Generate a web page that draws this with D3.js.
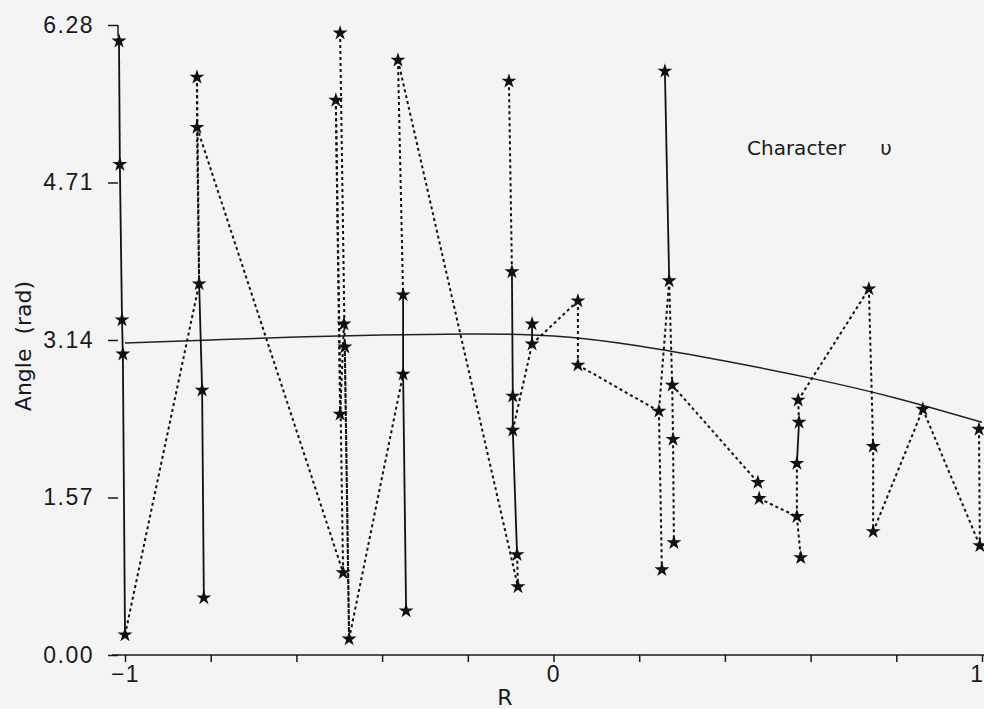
<!DOCTYPE html>
<meta charset="utf-8">
<style>
body { margin: 0; background: #f4f4f4; }
svg { display: block; font-family: "DejaVu Sans", sans-serif; }
.axis text { font-size: 23px; fill: #1a1a1a; letter-spacing: 1.5px; }
.axis line { stroke: #1a1a1a; stroke-width: 1.5; }
.label { font-size: 22px; fill: #1a1a1a; }
.solid { fill: none; stroke: #111; stroke-width: 1.8; }
.dotted { fill: none; stroke: #111; stroke-width: 2; stroke-dasharray: 3,3; }
.curve { fill: none; stroke: #222; stroke-width: 1.5; }
.star { fill: #111; }
</style>
<body>
<svg width="984" height="709"></svg>
<script src="https://cdn.jsdelivr.net/npm/d3@7"></script>
<script>

// stars: id, R, angle (rad)
var points = [
    ["A1", -1.014, 6.12], ["A2", -1.012, 4.89], ["A3", -1.007, 3.34], ["A4", -1.005, 3.00], ["A5", -1.000, 0.20],
    ["B1", -0.832, 5.76], ["B2", -0.832, 5.26], ["B3", -0.827, 3.70], ["B4", -0.820, 2.64], ["B5", -0.816, 0.57],
    ["C1", -0.498, 6.20], ["C2", -0.508, 5.53], ["C3", -0.489, 3.30], ["C4", -0.487, 3.07], ["C5", -0.498, 2.40],
    ["C6", -0.491, 0.82], ["C7", -0.477, 0.16],
    ["D1", -0.363, 5.93], ["D2", -0.351, 3.59], ["D3", -0.351, 2.80], ["D4", -0.344, 0.44],
    ["E1", -0.104, 5.72], ["E2", -0.097, 3.82], ["E3", -0.095, 2.58], ["E4", -0.095, 2.24], ["E5", -0.085, 1.00],
    ["E6", -0.083, 0.68],
    ["F1", -0.050, 3.30], ["F2", -0.050, 3.10],
    ["G1", 0.057, 3.53], ["G2", 0.057, 2.89],
    ["H1", 0.260, 5.82], ["H2", 0.270, 3.73], ["H3", 0.277, 2.69], ["H4", 0.246, 2.43], ["H5", 0.279, 2.15],
    ["H6", 0.281, 1.12], ["H7", 0.253, 0.85],
    ["I1", 0.477, 1.72], ["I2", 0.480, 1.56],
    ["J1", 0.571, 2.54], ["J2", 0.573, 2.32], ["J3", 0.568, 1.91], ["J4", 0.568, 1.38], ["J5", 0.577, 0.97],
    ["K1", 0.736, 3.65], ["K2", 0.746, 2.08], ["K3", 0.746, 1.23],
    ["L1", 0.862, 2.45],
    ["M1", 0.993, 2.25], ["M2", 0.995, 1.09]
];

var solidLinks = [
    ["A1","A2"], ["A2","A3"], ["A3","A4"], ["A4","A5"],
    ["B3","B4"], ["B4","B5"],
    ["D2","D3"], ["D3","D4"],
    ["E2","E3"], ["E3","E4"], ["E4","E5"],
    ["F1","F2"],
    ["H1","H2"],
    ["J2","J3"]
];

var dottedLinks = [
    ["A5","B3"],
    ["B1","B2"], ["B2","B3"], ["B1","B3"], ["B2","C6"],
    ["C1","C7"], ["C2","C6"], ["C3","C5"], ["C2","C5"], ["C4","C7"],
    ["C7","D3"],
    ["D1","D2"], ["D1","E6"],
    ["E1","E2"], ["E5","E6"], ["E4","F2"], ["F2","G1"],
    ["G1","G2"], ["G2","H4"],
    ["H2","H3"], ["H3","H5"], ["H5","H6"], ["H2","H4"], ["H4","H7"],
    ["H3","I1"], ["I2","J4"],
    ["J1","J2"], ["J3","J4"], ["J4","J5"], ["J1","K1"],
    ["K1","K2"], ["K2","K3"], ["K3","L1"],
    ["L1","M2"], ["M1","M2"]
];

// smooth reference curve
var curveR     = [-1, -0.8, -0.6, -0.4, -0.2, 0, 0.2, 0.4, 0.6, 0.8, 1];
var curveAngle = [3.11, 3.14, 3.17, 3.19, 3.20, 3.18, 3.08, 2.93, 2.76, 2.56, 2.32];

var xTicks = [-1, -0.8, -0.6, -0.4, -0.2, 0, 0.2, 0.4, 0.6, 0.8, 1];
var yTicks = [0, 1.57, 3.14, 4.71, 6.28];

var svg = d3.select("svg");
var x = d3.scaleLinear().domain([-1, 1]).range([125, 982]);
var y = d3.scaleLinear().domain([0, 6.28]).range([655, 25]);

var byId = {};
points.forEach(function(p) { byId[p[0]] = p; });

// x axis
var xAxis = svg.append("g")
    .attr("class", "axis")
    .attr("transform", "translate(0," + y(0) + ")")
    .call(d3.axisBottom(x)
        .tickValues(xTicks)
        .tickSize(7)
        .tickPadding(4)
        .tickFormat(function(d) { return d === -1 ? "\u22121" : (d === 0 || d === 1) ? String(d) : ""; }));
xAxis.select(".domain").remove();
xAxis.append("line")
    .attr("x1", 112).attr("x2", 984)
    .attr("y1", 0).attr("y2", 0);
// last label sits at the page edge, keep it inside
xAxis.selectAll(".tick text")
    .filter(function(d) { return d === 1; })
    .attr("text-anchor", "end")
    .attr("dx", 2);

// y axis (ticks only, plus the little hook at the top)
var yAxis = svg.append("g")
    .attr("class", "axis")
    .attr("transform", "translate(118,0)")
    .call(d3.axisLeft(y)
        .tickValues(yTicks)
        .tickSize(10)
        .tickPadding(14)
        .tickFormat(d3.format(".2f")));
yAxis.select(".domain").remove();
yAxis.append("line")
    .attr("x1", 0).attr("x2", 0)
    .attr("y1", y(6.28)).attr("y2", y(6.28) + 11);

// reference curve
var curve = d3.line()
    .x(function(d, i) { return x(curveR[i]); })
    .y(function(d, i) { return y(curveAngle[i]); })
    .curve(d3.curveNatural);
svg.append("path")
    .attr("class", "curve")
    .attr("d", curve(curveR));

// connecting segments
function drawLinks(links, cls) {
    svg.append("g").selectAll("line")
        .data(links)
        .enter().append("line")
        .attr("class", cls)
        .attr("x1", function(d) { return x(byId[d[0]][1]); })
        .attr("y1", function(d) { return y(byId[d[0]][2]); })
        .attr("x2", function(d) { return x(byId[d[1]][1]); })
        .attr("y2", function(d) { return y(byId[d[1]][2]); });
}
drawLinks(dottedLinks, "dotted");
drawLinks(solidLinks, "solid");

// stars
svg.append("g").selectAll("path")
    .data(points)
    .enter().append("path")
    .attr("class", "star")
    .attr("d", d3.symbol().type(d3.symbolStar).size(70))
    .attr("transform", function(d) { return "translate(" + x(d[1]) + "," + y(d[2]) + ")"; });

// labels
svg.append("text")
    .attr("class", "label")
    .attr("x", 505).attr("y", 705)
    .attr("text-anchor", "middle")
    .text("R");

svg.append("text")
    .attr("class", "label")
    .attr("transform", "translate(31,346) rotate(-90)")
    .attr("text-anchor", "middle")
    .attr("xml:space", "preserve")
    .text("Angle  (rad)");

svg.append("text")
    .attr("class", "label")
    .style("font-size", "20px")
    .attr("x", 747).attr("y", 155)
    .text("Character");

svg.append("text")
    .attr("class", "label")
    .style("font-size", "20px")
    .attr("x", 886).attr("y", 155)
    .attr("text-anchor", "middle")
    .text("\u03c5");

</script>
